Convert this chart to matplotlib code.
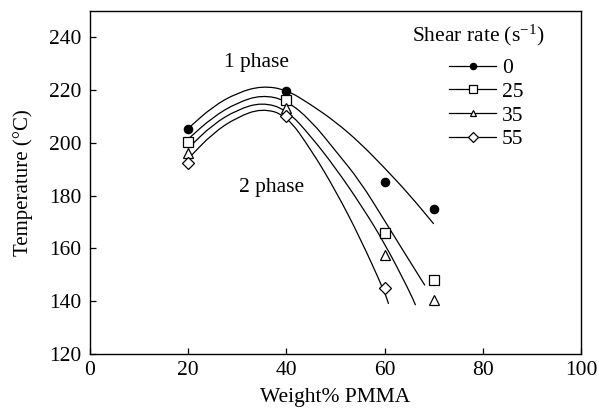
import matplotlib
matplotlib.use("Agg")
import matplotlib.pyplot as plt
from matplotlib.lines import Line2D
from matplotlib.path import Path
from matplotlib.patches import PathPatch

plt.rcParams['font.family'] = ['Liberation Serif', 'DejaVu Serif']
plt.rcParams['mathtext.fontset'] = 'custom'
plt.rcParams['mathtext.rm'] = 'Liberation Serif'
plt.rcParams['mathtext.it'] = 'Liberation Serif:italic'

# Measured points
shear_labels = ['0', '25', '35', '55']
pts_x4 = [20, 40, 60, 70]
pts_x3 = [20, 40, 60]
pts_T0 = [205.2, 219.8, 185.1, 174.8]
pts_T25 = [200.4, 216.4, 165.8, 148.1]
pts_T35 = [196.0, 213.4, 157.6, 140.3]
pts_T55 = [192.2, 210.2, 144.9]

# Boundary (fitted) curves: knots
curve_x0 = [20, 25, 30, 35, 40, 45, 50, 55, 60, 65, 70]
curve_y0 = [205.5, 213.8, 219.0, 221.6, 220.2, 214.5, 208.0, 200.0, 190.5, 180.5, 169.3]
curve_x25 = [20, 25, 30, 35, 40, 45, 50, 55, 60, 65, 68.2]
curve_y25 = [201.5, 209.8, 215.3, 218.2, 216.2, 208.5, 197.0, 185.5, 170.5, 155.5, 146.0]
curve_x35 = [20, 25, 30, 35, 40, 45, 50, 55, 60, 65, 66.3]
curve_y35 = [198.0, 207.0, 212.6, 215.4, 212.7, 202.5, 190.5, 177.0, 162.0, 144.0, 138.5]
curve_x55 = [20, 25, 30, 35, 40, 45, 50, 55, 60, 60.8]
curve_y55 = [194.0, 203.7, 209.8, 213.1, 210.5, 197.5, 182.0, 164.0, 143.5, 139.0]

xticks = [0, 20, 40, 60, 80, 100]
yticks = [120, 140, 160, 180, 200, 220, 240]

FS = 15.5

series = [
    ('0', pts_x4, pts_T0, curve_x0, curve_y0, dict(marker='o', mfc='black', ms=6)),
    ('25', pts_x4, pts_T25, curve_x25, curve_y25, dict(marker='s', mfc='white', ms=7)),
    ('35', pts_x4, pts_T35, curve_x35, curve_y35, dict(marker='^', mfc='white', ms=6.5)),
    ('55', pts_x3, pts_T55, curve_x55, curve_y55, dict(marker='D', mfc='white', ms=6.5)),
]


def smooth_path(xs, ys):
    pts = list(zip(xs, ys))
    verts = [pts[0]]
    codes = [Path.MOVETO]
    mid = ((pts[0][0] + pts[1][0]) / 2, (pts[0][1] + pts[1][1]) / 2)
    verts.append(mid)
    codes.append(Path.LINETO)
    for i in range(1, len(pts) - 1):
        nxt = ((pts[i][0] + pts[i + 1][0]) / 2, (pts[i][1] + pts[i + 1][1]) / 2)
        verts += [pts[i], nxt]
        codes += [Path.CURVE3, Path.CURVE3]
    verts.append(pts[-1])
    codes.append(Path.LINETO)
    return Path(verts, codes)


fig = plt.figure(figsize=(5.99, 4.13), dpi=100)
ax = fig.add_axes([0.1503, 0.1429, 0.8197, 0.8305])

handles = []
for lab, px, py, cx, cy, mk in series:
    ax.add_patch(PathPatch(smooth_path(cx, cy), facecolor='none', edgecolor='black',
                           lw=0.9, zorder=2))
    ax.plot(px, py, linestyle='none', color='black', mec='black', mew=0.9, zorder=3, **mk)
    handles.append(Line2D([0], [0], color='black', lw=0.9, mec='black', mew=0.9, label=lab, **mk))

ax.set_xlim(0, 100)
ax.set_ylim(120, 250)
ax.set_xticks(xticks)
ax.set_yticks(yticks)
ax.tick_params(direction='in', length=4, width=0.9, labelsize=FS, top=False, right=False)
ax.tick_params(axis='x', pad=5)
ax.tick_params(axis='y', pad=6)
for s in ax.spines.values():
    s.set_linewidth(1.0)

ax.set_xlabel('Weight% PMMA', fontsize=FS, labelpad=6)
ax.set_ylabel('Temperature (°C)', fontsize=15, labelpad=12)

ax.text(34.0, 230.3, '1 phase', fontsize=FS, ha='center', va='center')
ax.text(37.0, 183.0, '2 phase', fontsize=FS, ha='center', va='center')

ax.text(0.790, 0.930, 'Shear rate (s$^{-1}$)', transform=ax.transAxes,
        fontsize=FS, ha='center', va='center')
leg = ax.legend(handles=handles, loc='upper left',
                bbox_to_anchor=(0.731, 0.863), frameon=False, fontsize=FS,
                markerscale=0.75, handlelength=2.2,
                handletextpad=0.25, labelspacing=0.17, borderaxespad=0.0, borderpad=0.0)

fig.savefig('out.png', dpi=100)
